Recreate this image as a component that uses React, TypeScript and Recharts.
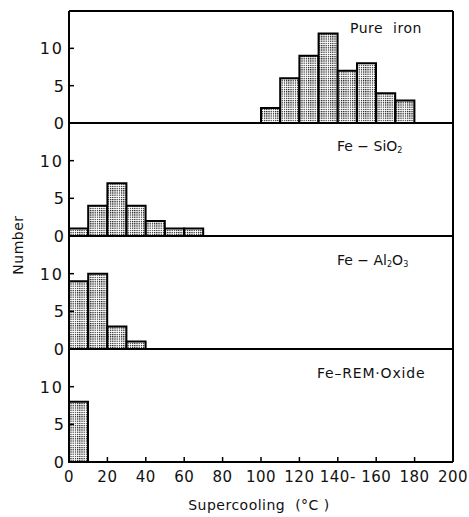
import React from "react";
import { BarChart, Bar, XAxis, YAxis } from "recharts";

const binStarts = [0, 10, 20, 30, 40, 50, 60, 70, 80, 90, 100, 110, 120, 130, 140, 150, 160, 170, 180, 190];
const pureIron = [0, 0, 0, 0, 0, 0, 0, 0, 0, 0, 2, 6, 9, 12, 7, 8, 4, 3, 0, 0];
const feSiO2 = [1, 4, 7, 4, 2, 1, 1, 0, 0, 0, 0, 0, 0, 0, 0, 0, 0, 0, 0, 0];
const feAl2O3 = [9, 10, 3, 1, 0, 0, 0, 0, 0, 0, 0, 0, 0, 0, 0, 0, 0, 0, 0, 0];
const feREM = [8, 0, 0, 0, 0, 0, 0, 0, 0, 0, 0, 0, 0, 0, 0, 0, 0, 0, 0, 0];
const xTicks = [0, 20, 40, 60, 80, 100, 120, 140, 160, 180, 200];
const xTickLabels = ["0", "20", "40", "60", "80", "100", "120", "140-", "160", "180", "200"];
const yTicks = [0, 5, 10];

const FONT = "'DejaVu Sans', Verdana, sans-serif";
const W = 469;
const ML = 69;
const MR = 15;

function makeRows(values: number[]) {
  return binStarts.map((b, i) => ({ bin: String(b), mid: b + 5, v: values[i] }));
}

const YTick = (props: any) => {
  const { x, y, payload } = props;
  return (
    <g>
      <line x1={x} x2={x + 5} y1={y} y2={y} stroke="#000" strokeWidth={1.5} />
      <text x={x - 5} y={y} dy={6} textAnchor="end" fontFamily={FONT} fontSize={16} letterSpacing={payload.value >= 10 ? 2 : 0} fill="#111">
        {payload.value}
      </text>
    </g>
  );
};

const XTick = (props: any) => {
  const { x, y, payload } = props;
  const idx = xTicks.indexOf(payload.value);
  const label = idx >= 0 ? xTickLabels[idx] : String(payload.value);
  return (
    <g>
      <line x1={x} x2={x} y1={y - 1} y2={y - 6} stroke="#000" strokeWidth={1.5} />
      <text x={x} y={y + 19} textAnchor="middle" fontFamily={FONT} fontSize={15} letterSpacing={0.5} fill="#111">
        {label}
      </text>
    </g>
  );
};

type PanelProps = {
  values: number[];
  top: number;
  height: number;
  first?: boolean;
  last?: boolean;
};

const Panel = ({ values, top, height, first, last }: PanelProps) => {
  const mt = first ? 9 : 12;
  const mb = last ? 54 : 12;
  const topAxisH = first ? 1 : 0;
  const bottomAxisH = last ? 2 : 1;
  const data = makeRows(values);
  return (
    <div style={{ position: "absolute", left: 0, top: top - mt - topAxisH }}>
      <BarChart
        width={W}
        height={height + mt + mb + topAxisH + bottomAxisH}
        data={data}
        margin={{ top: mt, right: MR, bottom: mb, left: 0 }}
        barCategoryGap={0}
        barGap={0}
      >
        {first && (
          <XAxis
            xAxisId="top"
            orientation="top"
            dataKey="bin"
            tick={false}
            tickLine={false}
            height={1}
            axisLine={{ stroke: "#000", strokeWidth: 2 }}
          />
        )}
        <XAxis
          xAxisId="cat"
          dataKey="bin"
          tick={false}
          tickLine={false}
          height={1}
          axisLine={{ stroke: "#000", strokeWidth: 2 }}
        />
        {last && (
          <XAxis
            xAxisId="num"
            type="number"
            dataKey="mid"
            domain={[0, 200]}
            ticks={xTicks}
            interval={0}
            allowDataOverflow
            height={1}
            tickSize={0}
            tickMargin={0}
            tickLine={false}
            axisLine={false}
            tick={<XTick />}
          />
        )}
        <YAxis
          yAxisId="left"
          domain={[0, 15]}
          ticks={yTicks}
          interval={0}
          width={ML}
          tickSize={0}
          tickMargin={0}
          tickLine={false}
          axisLine={{ stroke: "#000", strokeWidth: 2 }}
          tick={<YTick />}
        />
        <YAxis
          yAxisId="right"
          orientation="right"
          domain={[0, 15]}
          width={1}
          tick={false}
          tickLine={false}
          axisLine={{ stroke: "#000", strokeWidth: 2 }}
        />
        <Bar
          xAxisId="cat"
          yAxisId="left"
          dataKey="v"
          fill="url(#dots)"
          stroke="#000"
          strokeWidth={2}
          isAnimationActive={false}
        />
      </BarChart>
    </div>
  );
};

export default function App() {
  return (
    <div style={{ position: "absolute", left: 0, top: 0, width: W, height: 517, background: "#fff" }}>
      <svg width={0} height={0} style={{ position: "absolute" }}>
        <defs>
          <pattern id="dots" width="2.2" height="2.2" patternUnits="userSpaceOnUse">
            <rect width="2.2" height="2.2" fill="#fff" />
            <rect width="1.2" height="1.2" fill="#111" />
          </pattern>
        </defs>
      </svg>
      <Panel values={pureIron} top={11} height={112} first />
      <Panel values={feSiO2} top={123} height={113} />
      <Panel values={feAl2O3} top={236} height={113} />
      <Panel values={feREM} top={349} height={113} last />
      <svg width={W} height={517} style={{ position: "absolute", left: 0, top: 0, pointerEvents: "none" }}>
        <g fontFamily={FONT} fill="#111">
          <text x={350} y={33} fontSize={14} letterSpacing={0.5}>Pure{"\u00a0\u00a0"}iron</text>
          <text x={337} y={151} fontSize={14}>
            Fe − SiO<tspan fontSize={8} dy={2}>2</tspan>
          </text>
          <text x={337} y={265} fontSize={14}>
            Fe − Al<tspan fontSize={8} dy={2}>2</tspan><tspan dy={-2}>O</tspan><tspan fontSize={8} dy={2}>3</tspan>
          </text>
          <text x={317} y={378} fontSize={14} letterSpacing={0.8}>Fe–REM·Oxide</text>
          <text x={259} y={510} fontSize={14} letterSpacing={0.5} textAnchor="middle">Supercooling{"\u00a0\u00a0"}(°C )</text>
          <text x={0} y={0} fontSize={14} letterSpacing={0.5} textAnchor="middle" transform="translate(23,245) rotate(-90)">Number</text>
        </g>
      </svg>
    </div>
  );
}
